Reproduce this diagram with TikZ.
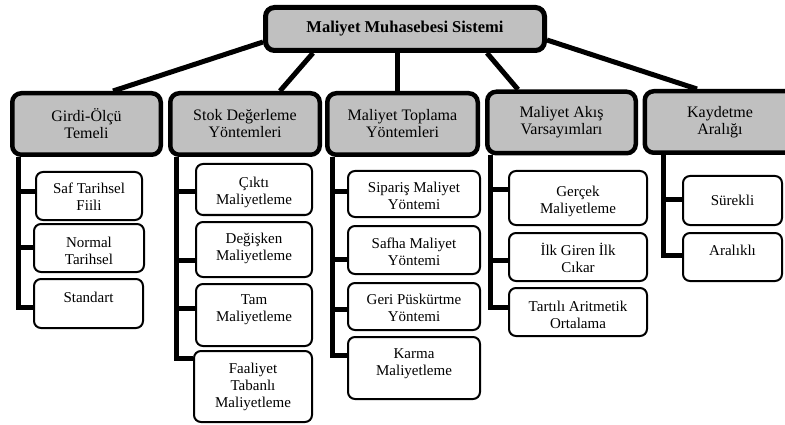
\documentclass[tikz,border=0pt]{standalone}
\usepackage{fontspec}
\setmainfont{Liberation Serif}
\usetikzlibrary{backgrounds}
\definecolor{hdrgray}{RGB}{192,192,192}
\newcommand\leafnode[7]{%
  \node[leafbox, minimum width=#4pt, minimum height=#5pt] (#1) at (#2,#3) {};
  \node[leaftext] (#1-t) at (#2,#6) {#7};}
\begin{document}
\begin{tikzpicture}[x=1pt,y=-1pt,
  titlebox/.style={draw, line width=5pt, fill=hdrgray, rounded corners=9pt, inner sep=0pt,
    minimum width=279pt, minimum height=43pt, font=\bfseries\fontsize{16.5}{18}\selectfont},
  hdrbox/.style={draw, line width=4.5pt, fill=hdrgray, rounded corners=9pt, inner sep=0pt,
    minimum height=61.5pt, align=center, font=\fontsize{16}{17}\selectfont},
  leafbox/.style={draw, line width=2pt, fill=white, rounded corners=7pt, inner sep=0pt},
  leaftext/.style={align=center, inner sep=0pt, font=\fontsize{15}{17}\selectfont},
  conn/.style={line width=5pt},
]
\useasboundingbox (0,0) rectangle (785,425);

% title and headers
\node[titlebox] (title) at (405,29) {Maliyet Muhasebesi Sistemi};
\node[hdrbox, minimum width=148.5pt] (girdi) at (86.5,124) {Girdi-Ölçü\\Temeli};
\node[hdrbox, minimum width=149.5pt] (stok) at (245,124) {Stok Değerleme\\Yöntemleri};
\node[hdrbox, minimum width=150.5pt] (toplama) at (402.5,124) {Maliyet Toplama\\Yöntemleri};
\node[hdrbox, minimum width=148.5pt] (akis) at (561.5,122.5) {Maliyet Akış\\Varsayımları};
\node[hdrbox, minimum width=150.5pt] (kayit) at (720,122) {Kaydetme\\Aralığı};

% leaves
\leafnode{saf}{89}{196}{106}{48}{197}{Saf Tarihsel\\Fiili}
\leafnode{normal}{89}{248}{110}{48}{251}{Normal\\Tarihsel}
\leafnode{std}{88.5}{303.5}{109}{49}{297}{Standart}

\leafnode{cikti}{254}{189.5}{116}{51}{192}{Çıktı\\Maliyetleme}
\leafnode{degisken}{254}{249.5}{116}{55}{248}{Değişken\\Maliyetleme}
\leafnode{tam}{254}{315}{116}{62}{310}{Tam\\Maliyetleme}
\leafnode{faaliyet}{253}{386.5}{118}{71}{387}{Faaliyet\\Tabanlı\\Maliyetleme}

\leafnode{siparis}{414}{194}{132}{46}{196}{Sipariş Maliyet\\Yöntemi}
\leafnode{safha}{414}{250}{132}{48}{252}{Safha Maliyet\\Yöntemi}
\leafnode{geri}{414}{306.5}{132}{47}{308}{Geri Püskürtme\\Yöntemi}
\leafnode{karma}{414}{368}{132}{62}{364}{Karma\\Maliyetleme}

\leafnode{gercek}{578}{198}{138}{54}{201}{Gerçek\\Maliyetleme}
\leafnode{ilk}{578}{257}{138}{48}{258}{İlk Giren İlk\\Cıkar}
\leafnode{tartili}{578}{312}{138}{48}{315}{Tartılı Aritmetik\\Ortalama}

\leafnode{surekli}{732.5}{200.5}{99}{49}{200}{Sürekli}
\leafnode{aralikli}{732.5}{257}{99}{48}{250}{Aralıklı}

\begin{pgfonlayer}{background}
  % title to headers
  \draw[conn] ([yshift=-13pt]title.west) -- (113,0 |- girdi.north);
  \draw[conn] (313,0 |- title.south) -- (280,0 |- stok.north);
  \draw[conn] (397,0 |- title.south) -- (397,0 |- toplama.north);
  \draw[conn] (487,0 |- title.south) -- (518,0 |- akis.north);
  \draw[conn] ([yshift=-11pt]title.east) -- (697,0 |- kayit.north);
  % Girdi column
  \draw[conn] (18,0 |- girdi.south) -- (18,307) -- (18,307 -| std.west);
  \draw[conn] (18,192) -- (18,192 -| saf.west);
  \draw[conn] (18,247) -- (18,247 -| normal.west);
  % Stok column
  \draw[conn] (176,0 |- stok.south) -- (176,358) -- (176,358 -| faaliyet.west);
  \draw[conn] (176,192) -- (176,192 -| cikti.west);
  \draw[conn] (176,260) -- (176,260 -| degisken.west);
  \draw[conn] (176,308) -- (176,308 -| tam.west);
  % Toplama column
  \draw[conn] (332,0 |- toplama.south) -- (332,355) -- (332,355 -| karma.west);
  \draw[conn] (332,192) -- (332,192 -| siparis.west);
  \draw[conn] (332,259) -- (332,259 -| safha.west);
  \draw[conn] (332,309) -- (332,309 -| geri.west);
  % Akis column
  \draw[conn] (490,0 |- akis.south) -- (490,307) -- (490,307 -| tartili.west);
  \draw[conn] (490,190) -- (490,190 -| gercek.west);
  \draw[conn] (490,260) -- (490,260 -| ilk.west);
  % Kaydetme column
  \draw[conn] (663,0 |- kayit.south) -- (663,255) -- (663,255 -| aralikli.west);
  \draw[conn] (663,200) -- (663,200 -| surekli.west);
\end{pgfonlayer}
\end{tikzpicture}
\end{document}
